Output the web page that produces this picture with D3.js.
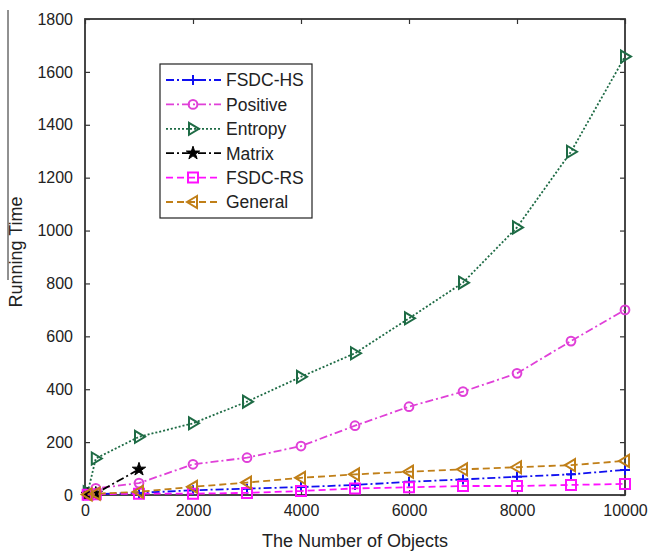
<!DOCTYPE html>
<html>
<head>
<meta charset="utf-8">
<script src="https://cdn.jsdelivr.net/npm/d3@7"></script>
<style>
  body { margin: 0; background: #fff; }
  svg { display: block; }
  text { font-family: "Liberation Sans", Arial, sans-serif; fill: #222; }
</style>
</head>
<body>
<svg id="chart" width="652" height="552"></svg>
<script>
const xValues = [50, 200, 1000, 2000, 3000, 4000, 5000, 6000, 7000, 8000, 9000, 10000];
const fsdcHS   = [1, 3, 8, 18, 24, 30, 38, 50, 59, 69, 78, 95];
const positive = [5, 25, 45, 116, 141, 185, 262, 334, 391, 460, 582, 700];
const entropy  = [10, 138, 220, 271, 353, 447, 536, 668, 803, 1012, 1298, 1658];
const matrixX  = [50, 200, 1000];
const matrix   = [2, 6, 97];
const fsdcRS   = [1, 3, 5, 5, 8, 15, 25, 29, 34, 34, 38, 42];
const general  = [2, 5, 12, 31, 47, 65, 78, 88, 97, 105, 113, 129];
const xTicks = [0, 2000, 4000, 6000, 8000, 10000];
const yTicks = [0, 200, 400, 600, 800, 1000, 1200, 1400, 1600, 1800];

const series = [
  {name: "FSDC-HS", xs: xValues, ys: fsdcHS, color: "#1010f0", dash: "8,3,2,3", marker: "plus"},
  {name: "Positive", xs: xValues, ys: positive, color: "#e040d8", dash: "8,3,2,3", marker: "circle"},
  {name: "Entropy", xs: xValues, ys: entropy, color: "#1e6b45", dash: "2,2", marker: "triRight"},
  {name: "Matrix", xs: matrixX, ys: matrix, color: "#000000", dash: "8,3,2,3", marker: "star"},
  {name: "FSDC-RS", xs: xValues, ys: fsdcRS, color: "#ff10ff", dash: "7,4", marker: "square"},
  {name: "General", xs: xValues, ys: general, color: "#c07f18", dash: "7,4", marker: "triLeft"}
];

const svg = d3.select("#chart");
const L = 85, R = 625, T = 19, B = 495;
const x = d3.scaleLinear().domain([0, 10000]).range([L, R]);
const y = d3.scaleLinear().domain([0, 1800]).range([B, T]);

// stray edge line in the reference
svg.append("line").attr("x1", 8).attr("x2", 8).attr("y1", 10).attr("y2", 280)
  .attr("stroke", "#222").attr("stroke-width", 1);

// axes (inward ticks, boxed)
const axisColor = "#333";
function styleAxis(g) {
  g.select(".domain").remove();
  g.selectAll(".tick line").attr("stroke", axisColor).attr("stroke-width", 1.2);
  g.selectAll("text").style("font-size", "16px").attr("fill", "#222");
}
svg.append("g").attr("transform", `translate(0,${B})`)
  .call(d3.axisBottom(x).tickValues(xTicks).tickFormat(d3.format("d")).tickSizeInner(-5).tickPadding(10))
  .call(styleAxis);
svg.append("g").attr("transform", `translate(0,${T})`)
  .call(d3.axisTop(x).tickValues(xTicks).tickFormat("").tickSizeInner(-5))
  .call(styleAxis);
svg.append("g").attr("transform", `translate(${L},0)`)
  .call(d3.axisLeft(y).tickValues(yTicks).tickFormat(d3.format("d")).tickSizeInner(-5).tickPadding(12))
  .call(styleAxis);
svg.append("g").attr("transform", `translate(${R},0)`)
  .call(d3.axisRight(y).tickValues(yTicks).tickFormat("").tickSizeInner(-5))
  .call(styleAxis);
svg.append("rect").attr("x", L).attr("y", T).attr("width", R - L).attr("height", B - T)
  .attr("fill", "none").attr("stroke", axisColor).attr("stroke-width", 1.8);

// markers
function markerPath(type) {
  switch (type) {
    case "plus": return "M-5,0H5M0,-5V5";
    case "circle": return d3.symbol(d3.symbolCircle, 60)();
    case "square": return "M-5,-5H5V5H-5Z";
    case "triRight": return "M-4,-6L6,0L-4,6Z";
    case "triLeft": return "M4,-6L-6,0L4,6Z";
    case "star": return d3.symbol(d3.symbolStar, 55)();
  }
}

const line = d3.line().x(d => x(d[0])).y(d => y(d[1]));
const plot = svg.append("g");
series.forEach(s => {
  const pts = s.xs.map((v, i) => [v, s.ys[i]]);
  plot.append("path").datum(pts).attr("d", line)
    .attr("fill", "none").attr("stroke", s.color).attr("stroke-width", 1.8)
    .attr("stroke-dasharray", s.dash);
  plot.selectAll(null).data(pts).enter().append("path")
    .attr("transform", d => `translate(${x(d[0])},${y(d[1])})`)
    .attr("d", markerPath(s.marker))
    .attr("fill", s.marker === "star" ? s.color : "none")
    .attr("stroke", s.color).attr("stroke-width", s.marker === "star" ? 1 : 2);
});

// legend
const lg = svg.append("g");
lg.append("rect").attr("x", 160).attr("y", 64).attr("width", 152).attr("height", 154)
  .attr("fill", "#fff").attr("stroke", "#222").attr("stroke-width", 1.2);
series.forEach((s, i) => {
  const cy = 80 + i * 24.4;
  lg.append("line").attr("x1", 166).attr("x2", 221).attr("y1", cy).attr("y2", cy)
    .attr("stroke", s.color).attr("stroke-width", 1.8).attr("stroke-dasharray", s.dash);
  lg.append("path").attr("transform", `translate(193,${cy})`).attr("d", markerPath(s.marker))
    .attr("fill", s.marker === "star" ? s.color : "none")
    .attr("stroke", s.color).attr("stroke-width", s.marker === "star" ? 1 : 2);
  lg.append("text").attr("x", 226).attr("y", cy).attr("dy", "0.36em")
    .style("font-size", "17.5px").text(s.name);
});

// axis titles
svg.append("text").attr("x", (L + R) / 2).attr("y", 547).attr("text-anchor", "middle")
  .style("font-size", "18px").text("The Number of Objects");
svg.append("text").attr("transform", "translate(22,252) rotate(-90)").attr("text-anchor", "middle")
  .style("font-size", "18px").text("Running Time");
</script>
</body>
</html>
